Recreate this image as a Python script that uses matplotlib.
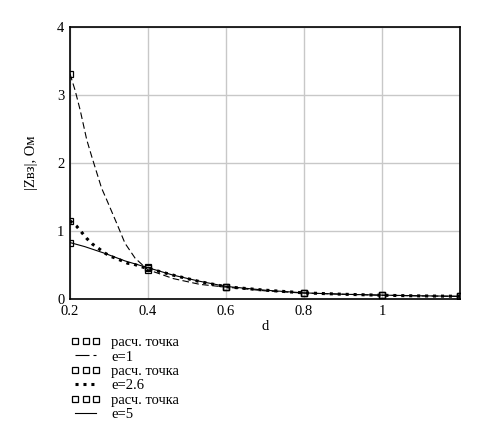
import matplotlib
matplotlib.use("Agg")
from matplotlib import pyplot as plt
from matplotlib.lines import Line2D

plt.rcParams['font.family'] = ['Liberation Serif', 'DejaVu Serif']
plt.rcParams['font.size'] = 10.5

# расчётные точки
d_pts = [0.2, 0.4, 0.6, 0.8, 1.0, 1.2]
z_pts_e1 = [3.31, 0.42, 0.17, 0.085, 0.055, 0.04]
z_pts_e26 = [1.15, 0.45, 0.18, 0.09, 0.055, 0.04]
z_pts_e5 = [0.83, 0.47, 0.18, 0.09, 0.055, 0.04]

# кривые
d_e1 = [0.2, 0.213, 0.226, 0.243, 0.256, 0.281, 0.294, 0.32, 0.341, 0.367, 0.388, 0.4,
        0.465, 0.533, 0.6, 0.7, 0.8, 0.9, 1.0, 1.1, 1.2]
z_e1 = [3.31, 3.07, 2.78, 2.34, 2.09, 1.63, 1.46, 1.11, 0.82, 0.60, 0.49, 0.43,
        0.30, 0.215, 0.175, 0.12, 0.087, 0.07, 0.055, 0.045, 0.038]

d_e26 = [0.2, 0.217, 0.23, 0.243, 0.257, 0.273, 0.288, 0.303, 0.317, 0.334, 0.348, 0.362,
         0.377, 0.392, 0.4, 0.465, 0.533, 0.6, 0.7, 0.8, 0.9, 1.0, 1.1, 1.2]
z_e26 = [1.15, 1.07, 0.98, 0.89, 0.81, 0.745, 0.68, 0.63, 0.60, 0.56, 0.525, 0.515,
         0.485, 0.46, 0.45, 0.35, 0.255, 0.18, 0.13, 0.09, 0.07, 0.055, 0.045, 0.04]

d_e5 = [0.2, 0.238, 0.29, 0.341, 0.4, 0.465, 0.533, 0.6, 0.7, 0.8, 0.9, 1.0, 1.1, 1.2]
z_e5 = [0.83, 0.77, 0.67, 0.56, 0.46, 0.35, 0.26, 0.185, 0.13, 0.09, 0.07, 0.057, 0.047, 0.04]

x_ticks = [0.2, 0.4, 0.6, 0.8, 1.0]
x_labels = ['0.2', '0.4', '0.6', '0.8', '1']
y_ticks = [0, 1, 2, 3, 4]

fig = plt.figure(figsize=(5.02, 4.42), dpi=100)
ax = fig.add_axes([70/502, 1-299/442, 390/502, 272/442])

sq = dict(marker='s', markersize=5, markerfacecolor='none', markeredgecolor='black',
          markeredgewidth=0.9, linestyle='none')

ax.plot(d_pts, z_pts_e1, **sq)
ax.plot(d_e1, z_e1, color='black', linewidth=0.8, dashes=(6, 3))
ax.plot(d_pts, z_pts_e26, **sq)
ax.plot(d_e26, z_e26, color='black', linewidth=2.2, dashes=(1.0, 1.6))
ax.plot(d_pts, z_pts_e5, **sq)
ax.plot(d_e5, z_e5, color='black', linewidth=0.8)

ax.set_xlim(0.2, 1.2)
ax.set_ylim(0, 4)
ax.set_xticks(x_ticks)
ax.set_xticklabels(x_labels)
ax.set_yticks(y_ticks)
ax.tick_params(length=0, pad=4)
ax.grid(True, color='#c8c8c8', linewidth=1)
ax.set_axisbelow(True)
for s in ax.spines.values():
    s.set_linewidth(1.2)

ax.set_xlabel('d', labelpad=2)
ax.set_ylabel('|Zвз|, Ом', labelpad=14)

handles = [
    Line2D([], [], **sq),
    Line2D([], [], color='black', linewidth=0.8, dashes=(12.6, 3.6, 2.7, 3.6)),
    Line2D([], [], **sq),
    Line2D([], [], color='black', linewidth=2.2, dashes=(1.0, 1.6)),
    Line2D([], [], **sq),
    Line2D([], [], color='black', linewidth=0.8),
]
labels = ['расч. точка', 'e=1', 'расч. точка', 'e=2.6', 'расч. точка', 'e=5']
fig.legend(handles, labels, loc='upper left', bbox_to_anchor=(71/502, 1-336/442),
           frameon=False, numpoints=3, handlelength=2.0, handletextpad=0.75,
           labelspacing=0.08, borderpad=0, borderaxespad=0)

fig.savefig('out.png', dpi=100)
